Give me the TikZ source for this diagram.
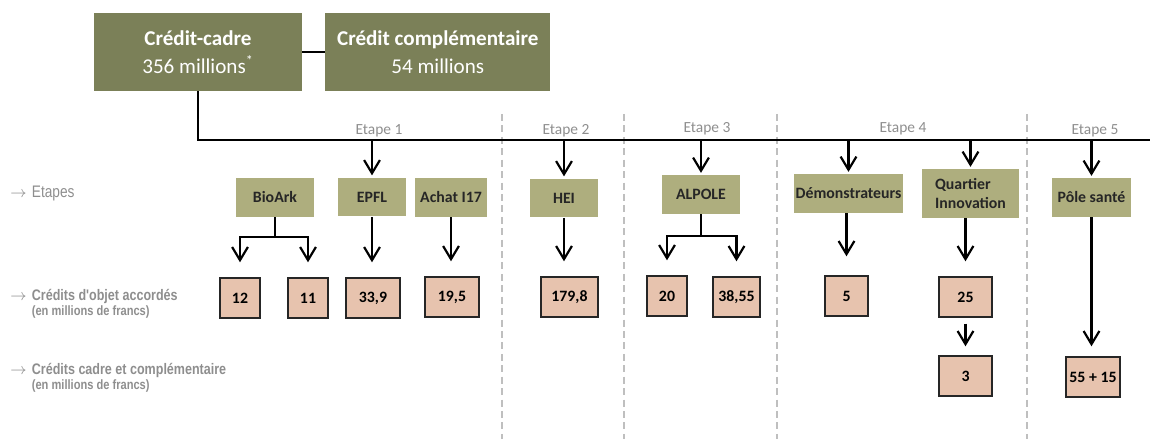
\documentclass[tikz,border=0pt]{standalone}
\usepackage{fontspec}
\setmainfont{Carlito}
\newfontfamily\lblfont[FakeStretch=0.82]{Liberation Sans}
\usetikzlibrary{arrows.meta}
\definecolor{olivedark}{HTML}{7B8058}
\definecolor{olivelight}{HTML}{AEAE7E}
\definecolor{peach}{HTML}{E7C3AE}
\definecolor{txtgray}{HTML}{8E8E8E}
\tikzstyle{cadre}=[fill=olivedark, text=white, align=center,
    minimum height=1.56cm, font=\fontsize{12}{16}\selectfont]
\tikzstyle{etape}=[fill=olivelight, text=black!85, align=left,
    minimum height=0.78cm, inner sep=1pt,
    font=\bfseries\fontsize{9}{10.5}\selectfont]
\tikzstyle{val}=[draw=black!85, fill=peach, thick, minimum height=0.8cm,
    inner sep=1pt, font=\bfseries\fontsize{9}{11}\selectfont]
\tikzstyle{lbl}=[text=txtgray, anchor=north west, inner sep=0pt, align=left,
    font=\lblfont\bfseries\fontsize{8.7}{8.7}\selectfont]
\tikzstyle{tag}=[text=txtgray, font=\fontsize{8.8}{10}\selectfont]
\tikzstyle{ln}=[line width=1.25pt]
\tikzstyle{fl}=[ln, -{Straight Barb[length=7.5pt,width=9pt]}, shorten >=0.3cm]
\tikzstyle{sep}=[line width=1pt, black!25, dash pattern=on 4pt off 2.5pt]
\def\mainy{140}
\def\fleche{$\rightarrow$\hspace{3pt}}

\begin{document}
\begin{tikzpicture}[x=0.02cm, y=-0.02cm]
    \useasboundingbox (0,0) rectangle (1150,439);
    \foreach \x in {502,624,777,1027}
        \draw[sep] (\x,114) -- (\x,439);
    \node (cc) [cadre, minimum width=4.16cm] at (198,52)
        {\textbf{Crédit-cadre}\\356 millions\textsuperscript{*}};
    \path (cc.east)+(135.5,0) node (ccomp) [cadre, minimum width=4.5cm]
        {\textbf{Crédit complémentaire}\\54 millions};
    \draw[ln] (cc) -- (ccomp);
    \coordinate (mend) at (1150,\mainy);
    \draw[ln] (cc.south) -- (cc.south |- mend) -- (mend);
    \node[tag] (e1) at (379,131) {Etape 1};
    \node[tag] (e2) at (566,131) {Etape 2};
    \node[tag] (e3) at (707,129) {Etape 3};
    \node[tag] (e4) at (903,129) {Etape 4};
    \node[tag] (e5) at (1095,131) {Etape 5};
    \node[lbl, font=\lblfont\fontsize{9.5}{9.5}\selectfont] (lEt) at (10,186)
        {\fleche Etapes};
    \node[lbl] (lObj) at (10,289)
        {\fleche Crédits d'objet accordés\\\phantom{\fleche}{\fontsize{7.7}{8.7}\selectfont(en millions de francs)}};
    \node[lbl] (lCad) at (10,363)
        {\fleche Crédits cadre et complémentaire\\\phantom{\fleche}{\fontsize{7.7}{8.7}\selectfont(en millions de francs)}};
    \node (bioark) [etape, minimum width=1.56cm] at (275,197.5) {BioArk};
    \node (epfl) [etape, minimum width=1.36cm] at (372,197) {EPFL};
    \node (achat) [etape, minimum width=1.44cm] at (451,197.5) {Achat I17};
    \node (hei) [etape, minimum width=1.36cm] at (564,198) {HEI};
    \node (alpole) [etape, minimum width=1.56cm] at (701,194.5) {ALPOLE};
    \node (demo) [etape, minimum width=2.1cm] at (848.5,193.5) {Démonstrateurs};
    \node (quart) [etape, minimum width=1.94cm, minimum height=0.98cm] at (970.5,193.5)
        {Quartier\\Innovation};
    \node (pole) [etape, minimum width=1.58cm] at (1091.5,197.5) {Pôle santé};
    \node (v12) [val, minimum width=0.8cm] at (240,298) {12};
    \node (v11) [val, minimum width=0.8cm] at (308,298) {11};
    \node (v339) [val, minimum width=1.08cm] at (373,298) {33,9};
    \node (v195) [val, minimum width=1.08cm] at (452,297) {19,5};
    \node (v1798) [val, minimum width=1.14cm] at (569.5,297) {179,8};
    \node (v20) [val, minimum width=0.8cm] at (667,296) {20};
    \node (v3855) [val, minimum width=0.94cm] at (736.5,297) {38,55};
    \node (v5) [val, minimum width=0.86cm] at (846.5,296) {5};
    \node (v25) [val, minimum width=1.06cm] at (965.5,297) {25};
    \path (v25)+(0,79) node (v3) [val, minimum width=1.06cm] {3};
    \node (v5515) [val, minimum width=1.08cm] at (1093,377) {55 + 15};
    \foreach \n in {epfl,hei,alpole,demo,quart,pole}
        \draw[fl, shorten >=1pt] (\n.north |- mend) -- (\n.north);
    \draw[ln] (bioark.south) -- ++(0,20) coordinate (bk);
    \draw[fl] (bk) -| (v12.north);
    \draw[fl] (bk) -| (v11.north);
    \draw[fl] (epfl.south) -- (epfl.south |- v339.north);
    \draw[fl] (achat.south) -- (achat.south |- v195.north);
    \draw[fl] (hei.south) -- (hei.south |- v1798.north);
    \draw[ln] (alpole.south) -- ++(0,22) coordinate (ak);
    \draw[fl] (ak) -| (v20.north);
    \draw[fl] (ak) -| (v3855.north);
    \draw[fl, shorten >=0.38cm] (v5.north |- demo.south) -- (v5.north);
    \draw[fl] (v25.north |- quart.south) -- (v25.north);
    \draw[fl, shorten <=0.12cm, shorten >=0.18cm] (v25) -- (v3);
    \draw[fl, shorten >=0.2cm] (pole.south) -- (pole.south |- v5515.north);
\end{tikzpicture}
\end{document}
